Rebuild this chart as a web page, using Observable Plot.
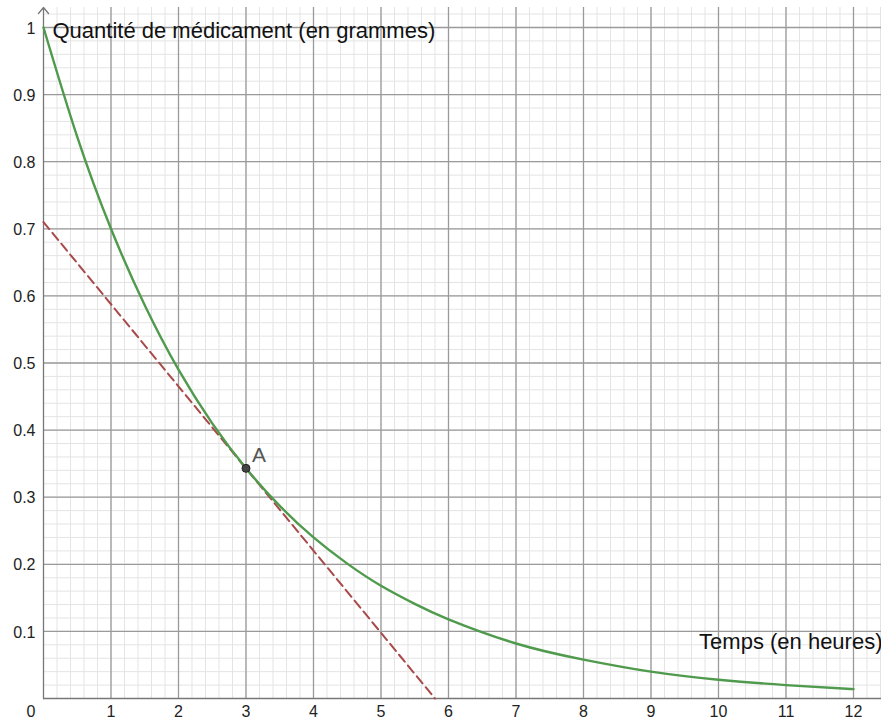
<!DOCTYPE html>
<html>
<head>
<meta charset="utf-8">
<script src="https://cdn.jsdelivr.net/npm/d3@7"></script>
<script src="https://cdn.jsdelivr.net/npm/@observablehq/plot@0.6"></script>
<style>
  html, body { margin: 0; padding: 0; background: #fff; }
  #chart svg { display: block; }
</style>
</head>
<body>
<div id="chart"></div>
<script>
// Curve values: quantity of medication (g) vs time (h)
const curveX = [0, 0.5, 1, 1.5, 2, 2.5, 3, 3.5, 4, 4.5, 5, 5.5, 6, 7, 8, 9, 10, 11, 12];
const curveY = [1.0, 0.837, 0.70, 0.586, 0.49, 0.41, 0.343, 0.287, 0.24, 0.201, 0.168, 0.141, 0.118, 0.082, 0.058, 0.040, 0.028, 0.020, 0.014];
// Tangent line at A (dashed)
const tangentX = [0, 5.8];
const tangentY = [0.71, 0];
// Point A
const pointA = {x: 3, y: 0.343, label: "A"};
// Tick labels
const xTickValues = [1, 2, 3, 4, 5, 6, 7, 8, 9, 10, 11, 12];
const xTickLabels = ["1", "2", "3", "4", "5", "6", "7", "8", "9", "10", "11", "12"];
const yTickValues = [0.1, 0.2, 0.3, 0.4, 0.5, 0.6, 0.7, 0.8, 0.9, 1];
const yTickLabels = ["0.1", "0.2", "0.3", "0.4", "0.5", "0.6", "0.7", "0.8", "0.9", "1"];
const yAxisTitle = "Quantité de médicament (en grammes)";
const xAxisTitle = "Temps (en heures)";

const xMax = 12.415, yMax = 1.0298;

const curve = curveX.map((x, i) => ({x, y: curveY[i]}));
const tangent = tangentX.map((x, i) => ({x, y: tangentY[i]}));
const minorX = d3.range(0, xMax, 0.2);
const minorY = d3.range(0, yMax, 0.02);
const xTicks = xTickValues.map((v, i) => ({v, t: xTickLabels[i]}));
const yTicks = yTickValues.map((v, i) => ({v, t: yTickLabels[i]}));

const font = "'Liberation Sans', Arial, sans-serif";

const chart = Plot.plot({
  width: 881,
  height: 724,
  marginLeft: 43,
  marginRight: 0,
  marginTop: 7,
  marginBottom: 26,
  style: {fontFamily: font, background: "#fff", overflow: "visible"},
  x: {domain: [0, xMax], axis: null},
  y: {domain: [0, yMax], axis: null},
  marks: [
    Plot.ruleX(minorX, {stroke: "#e4e4e4", strokeWidth: 1}),
    Plot.ruleY(minorY, {stroke: "#e4e4e4", strokeWidth: 1}),
    Plot.ruleX(xTickValues, {stroke: "#9a9a9a", strokeWidth: 1.3}),
    Plot.ruleY(yTickValues, {stroke: "#9a9a9a", strokeWidth: 1.3}),
    Plot.ruleY([0], {stroke: "#777", strokeWidth: 1.4}),
    Plot.arrow([{x: 0, y1: 0, y2: yMax}], {x: "x", y1: "y1", y2: "y2", x1: "x", x2: "x", stroke: "#777", strokeWidth: 1.3, headLength: 9, headAngle: 80, inset: 0}),
    Plot.line(tangent, {x: "x", y: "y", stroke: "#a8494a", strokeWidth: 2, strokeDasharray: "9,5"}),
    Plot.line(curve, {x: "x", y: "y", stroke: "#4f9a4c", strokeWidth: 2.4, curve: "natural"}),
    Plot.dot([pointA], {x: "x", y: "y", r: 4, fill: "#444", stroke: "#222", strokeWidth: 1}),
    Plot.text([pointA], {x: "x", y: "y", text: "label", fontSize: 21, fill: "#555", textAnchor: "start", dx: 6, dy: -13}),
    Plot.text(xTicks, {x: "v", y: () => 0, text: "t", fontSize: 16, fill: "#222", dy: 13}),
    Plot.text(["0"], {x: () => 0, y: () => 0, text: d => d, fontSize: 16, fill: "#222", textAnchor: "end", dx: -8, dy: 13}),
    Plot.text(yTicks, {x: () => 0, y: "v", text: "t", fontSize: 16, fill: "#222", textAnchor: "end", dx: -8, dy: 1}),
    Plot.text([yAxisTitle], {x: () => 0, y: () => 1, text: d => d, fontSize: 22, fill: "#111", textAnchor: "start", dx: 9, dy: 3}),
    Plot.text([xAxisTitle], {frameAnchor: "bottom-right", text: d => d, fontSize: 22, fill: "#111", textAnchor: "end", dx: 1, dy: -50})
  ]
});

document.getElementById("chart").appendChild(chart);
</script>
</body>
</html>
